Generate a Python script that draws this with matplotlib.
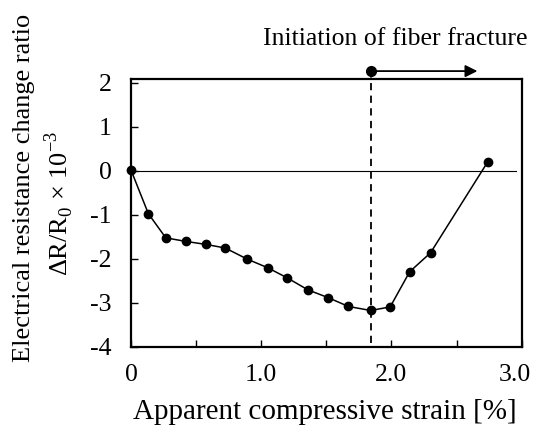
import matplotlib
matplotlib.use("Agg")
import matplotlib.pyplot as plt
import matplotlib.transforms as mtransforms
import numpy as np

plt.rcParams['font.family'] = ['Liberation Serif', 'DejaVu Serif']
plt.rcParams['mathtext.fontset'] = 'custom'
plt.rcParams['mathtext.rm'] = 'Liberation Serif'
plt.rcParams['axes.unicode_minus'] = False

# data
strain = [0.0, 0.133, 0.267, 0.42, 0.577, 0.723, 0.89, 1.05, 1.20, 1.357,
          1.515, 1.67, 1.84, 1.99, 2.14, 2.30, 2.74]
ratio = [0.02, -0.97, -1.52, -1.60, -1.67, -1.75, -2.00, -2.20, -2.43, -2.70,
         -2.88, -3.08, -3.17, -3.09, -2.29, -1.86, 0.21]
fracture_strain = 1.84
arrow_end = 2.66
xticks = [0.0, 0.5, 1.0, 1.5, 2.0, 2.5, 3.0]
xticklabels = ['0', '', '1.0', '', '2.0', '', '3.0']
yticks = [-4, -3, -2, -1, 0, 1, 2]

fig = plt.figure(figsize=(5.35, 4.28), dpi=100)
ax = fig.add_axes([0.2449, 0.1893, 0.7302, 0.6261])

ax.plot([0, 2.96], [0, 0], color='black', lw=0.8)
ax.plot(strain, ratio, color='black', lw=1.1, marker='o', ms=6, clip_on=False, zorder=3)

# initiation of fiber fracture
ax.plot([fracture_strain, fracture_strain], [-3.9, 2.27], color='black', lw=1.3,
        ls=(0, (4, 3)), clip_on=False)
ax.plot([fracture_strain], [2.27], 'o', color='black', ms=7, clip_on=False)
ax.annotate('', xy=(arrow_end, 2.27), xytext=(fracture_strain, 2.27),
            arrowprops=dict(arrowstyle='-|>', color='black', lw=1.3, mutation_scale=18,
                            shrinkA=0, shrinkB=0),
            annotation_clip=False)
fig.text(0.738, 0.91, 'Initiation of fiber fracture', ha='center', va='center', fontsize=18.5)

ax.set_xlim(0, 3.0)
ax.set_ylim(-4, 2.09)
ax.set_xticks(xticks)
ax.set_xticklabels(xticklabels)
ax.set_yticks(yticks)
ax.tick_params(direction='in', length=5, width=1, labelsize=18.5, pad=12)
ax.tick_params(axis='y', pad=14)
for s in ax.spines.values():
    s.set_linewidth(1.6)

# last x label sits a bit left of its tick, as in the original
lbl = ax.get_xticklabels()[-1]
lbl.set_transform(lbl.get_transform() + mtransforms.ScaledTranslation(-7 / 100, 0, fig.dpi_scale_trans))

fig.text(0.608, 0.037, 'Apparent compressive strain [%]', ha='center', va='center', fontsize=21)
fig.text(0.045, 0.561, 'Electrical resistance change ratio', rotation=90,
         ha='center', va='center', fontsize=19)
fig.text(0.112, 0.526, r'$\Delta$R/R$_0$ $\times$ 10$^{-3}$', rotation=90,
         ha='center', va='center', fontsize=19)

fig.savefig('out.png', dpi=100)
